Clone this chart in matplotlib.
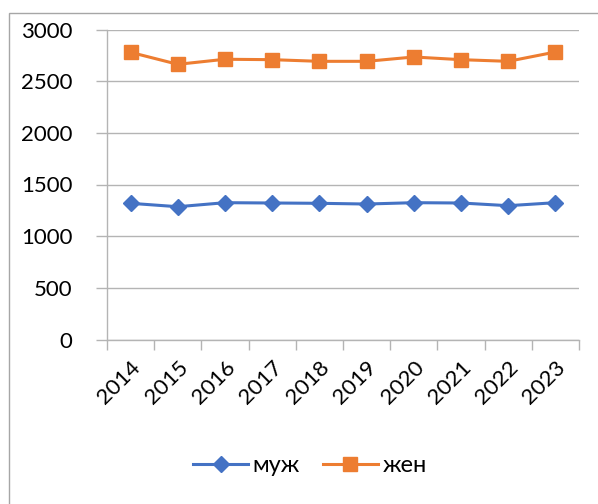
import matplotlib
matplotlib.use("Agg")
import matplotlib.pyplot as plt
from matplotlib.patches import Rectangle
from matplotlib.ticker import FixedLocator

years = ["2014", "2015", "2016", "2017", "2018", "2019", "2020", "2021", "2022", "2023"]
muzh = [1318, 1285, 1324, 1321, 1318, 1311, 1324, 1321, 1295, 1324]
zhen = [2779, 2663, 2712, 2708, 2692, 2692, 2734, 2708, 2692, 2782]
yticks = [0, 500, 1000, 1500, 2000, 2500, 3000]

plt.rcParams['font.family'] = ['Lato', 'DejaVu Sans']

W, H = 598, 504
fig = plt.figure(figsize=(W / 100, H / 100), dpi=100)
ax = fig.add_axes([107 / W, 1 - 339.5 / H, (579 - 107) / W, (339.5 - 29.5) / H])

grid_c = '#b4b4b4'
x = list(range(len(years)))
ax.plot(x, muzh, color='#4472C4', lw=2.2, marker='D', ms=8, label='муж', zorder=3)
ax.plot(x, zhen, color='#ED7D31', lw=2.2, marker='s', ms=10, label='жен', zorder=3)

ax.set_xlim(-0.5, len(years) - 0.5)
ax.set_ylim(0, 3000)
ax.set_yticks(yticks)
ax.set_yticklabels([str(v) for v in yticks])
ax.yaxis.grid(True, color=grid_c, lw=1.0)
ax.set_axisbelow(True)

ax.set_xticks(x)
ax.set_xticklabels(years, rotation=45, ha='right', va='top', rotation_mode='anchor')
ax.xaxis.set_minor_locator(FixedLocator([i - 0.5 for i in range(len(years) + 1)]))
ax.tick_params(axis='x', which='major', length=0, pad=13, labelsize=16)
ax.tick_params(axis='x', which='minor', length=7, color=grid_c, width=1.0)
ax.tick_params(axis='y', length=8, color=grid_c, width=1.0, pad=17, labelsize=16)

for s in ['top', 'right']:
    ax.spines[s].set_visible(False)
for s in ['left', 'bottom']:
    ax.spines[s].set_color(grid_c)
    ax.spines[s].set_linewidth(1.0)

leg = fig.legend(loc='center', bbox_to_anchor=(310 / W, 1 - 466 / H), ncol=2, frameon=False,
                 fontsize=17, handlelength=2.3, columnspacing=1.0, handletextpad=0.2)

fig.patches.append(Rectangle((8.5 / W, -0.1), 1.2, 1 - 12.5 / H + 0.1, transform=fig.transFigure,
                             fill=False, edgecolor='#a6a6a6', lw=1.0))

fig.savefig('out.png', dpi=100)
